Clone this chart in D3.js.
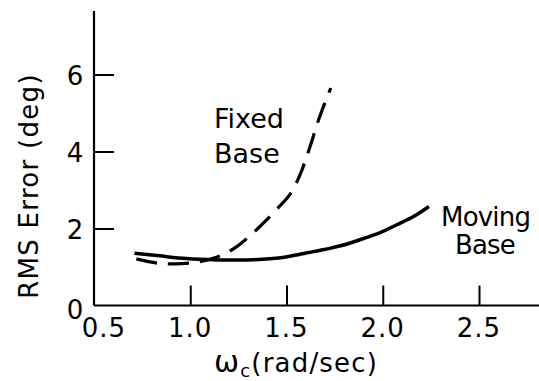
<!DOCTYPE html>
<html>
<head>
<meta charset="utf-8">
<script src="https://cdn.jsdelivr.net/npm/d3@7"></script>
<style>
  html, body { margin: 0; padding: 0; background: #fff; }
  svg { display: block; }
  text { font-family: "DejaVu Sans", sans-serif; fill: #000; }
</style>
</head>
<body>
<svg id="chart" width="539" height="381"></svg>
<script>
// Cutoff frequency (rad/sec) vs RMS error (deg)
const fixedX  = [0.72, 0.83, 0.92, 1.04, 1.14, 1.23, 1.31, 1.39, 1.47, 1.52, 1.57, 1.62, 1.67, 1.73];
const fixedY  = [1.21, 1.10, 1.08, 1.13, 1.26, 1.49, 1.81, 2.19, 2.61, 2.90, 3.39, 4.09, 4.87, 5.65];
const movingX = [0.71, 0.84, 0.98, 1.14, 1.24, 1.33, 1.47, 1.55, 1.64, 1.73, 1.81, 1.90, 1.99, 2.07, 2.16, 2.24];
const movingY = [1.36, 1.29, 1.22, 1.185, 1.18, 1.19, 1.24, 1.31, 1.40, 1.49, 1.59, 1.74, 1.90, 2.09, 2.31, 2.57];
const xTicks = [0.5, 1.0, 1.5, 2.0, 2.5];
const xTickLabels = ["0.5", "1.0", "1.5", "2.0", "2.5"];
const yTicks = [0, 2, 4, 6];
const yTickLabels = ["0", "2", "4", "6"];

const svg = d3.select("#chart");
const x = d3.scaleLinear().domain([0.5, 2.5]).range([94, 479]);
const y = d3.scaleLinear().domain([0, 6]).range([305.5, 74.5]);

// axis lines: x axis runs to the right edge, y axis rises above the top tick
svg.append("line")
  .attr("x1", x(0.5)).attr("x2", 539)
  .attr("y1", y(0)).attr("y2", y(0))
  .attr("stroke", "#000").attr("stroke-width", 2.2);
svg.append("line")
  .attr("x1", x(0.5)).attr("x2", x(0.5))
  .attr("y1", y(0)).attr("y2", y(7.65))
  .attr("stroke", "#000").attr("stroke-width", 2.2);

// x ticks (inside, pointing up), skipping the one on the y axis
const xAxis = d3.axisBottom(x).tickValues(xTicks.slice(1)).tickSizeInner(-20).tickSizeOuter(0).tickFormat("");
const gx = svg.append("g").attr("transform", `translate(0,${y(0)})`).call(xAxis);
gx.select(".domain").remove();
gx.selectAll(".tick line").attr("stroke", "#000").attr("stroke-width", 2);

// y ticks (inside, pointing right)
const yAxis = d3.axisLeft(y).tickValues(yTicks.slice(1)).tickSizeInner(-20).tickSizeOuter(0).tickFormat("");
const gy = svg.append("g").attr("transform", `translate(${x(0.5)},0)`).call(yAxis);
gy.select(".domain").remove();
gy.selectAll(".tick line").attr("stroke", "#000").attr("stroke-width", 2);

// tick labels
svg.selectAll("text.xl").data(xTicks).join("text")
  .attr("class", "xl")
  .attr("x", (d, i) => x(d) + (i === 0 ? 10 : 0))
  .attr("y", 337)
  .attr("text-anchor", "middle")
  .attr("font-size", 26)
  .attr("letter-spacing", 1)
  .text((d, i) => xTickLabels[i]);

svg.selectAll("text.yl").data(yTicks).join("text")
  .attr("class", "yl")
  .attr("x", 75)
  .attr("y", d => y(d) + (d === 0 ? 13 : 10))
  .attr("text-anchor", "middle")
  .attr("font-size", 26)
  .text((d, i) => yTickLabels[i]);

// axis titles
svg.append("text")
  .attr("transform", "translate(38,186) rotate(-90)")
  .attr("text-anchor", "middle")
  .attr("font-size", 26)
  .attr("letter-spacing", 1.3)
  .text("RMS Error (deg)");

const xt = svg.append("text")
  .attr("x", 296).attr("y", 372)
  .attr("text-anchor", "middle")
  .attr("font-size", 26)
  .attr("letter-spacing", 1.2);
xt.append("tspan").attr("font-size", 30).text("ω");
xt.append("tspan").attr("font-size", 18).attr("dy", 5).text("c");
xt.append("tspan").attr("dy", -5).text("(rad/sec)");

// curves
const line = d3.line().x(d => x(d[0])).y(d => y(d[1])).curve(d3.curveCatmullRom.alpha(0.5));
svg.append("path")
  .datum(fixedX.map((v, i) => [v, fixedY[i]]))
  .attr("d", line)
  .attr("fill", "none").attr("stroke", "#000")
  .attr("stroke-width", 3.2)
  .attr("stroke-dasharray", "21 11");
svg.append("path")
  .datum(movingX.map((v, i) => [v, movingY[i]]))
  .attr("d", line)
  .attr("fill", "none").attr("stroke", "#000")
  .attr("stroke-width", 3.5);

// curve labels
svg.append("text").attr("x", 214).attr("y", 128).attr("font-size", 27).text("Fixed");
svg.append("text").attr("x", 214).attr("y", 163).attr("font-size", 27).text("Base");
svg.append("text").attr("x", 441).attr("y", 226).attr("font-size", 26).attr("letter-spacing", -0.8).text("Moving");
svg.append("text").attr("x", 485).attr("y", 254).attr("font-size", 26).attr("letter-spacing", -0.8)
  .attr("text-anchor", "middle").text("Base");
</script>
</body>
</html>
